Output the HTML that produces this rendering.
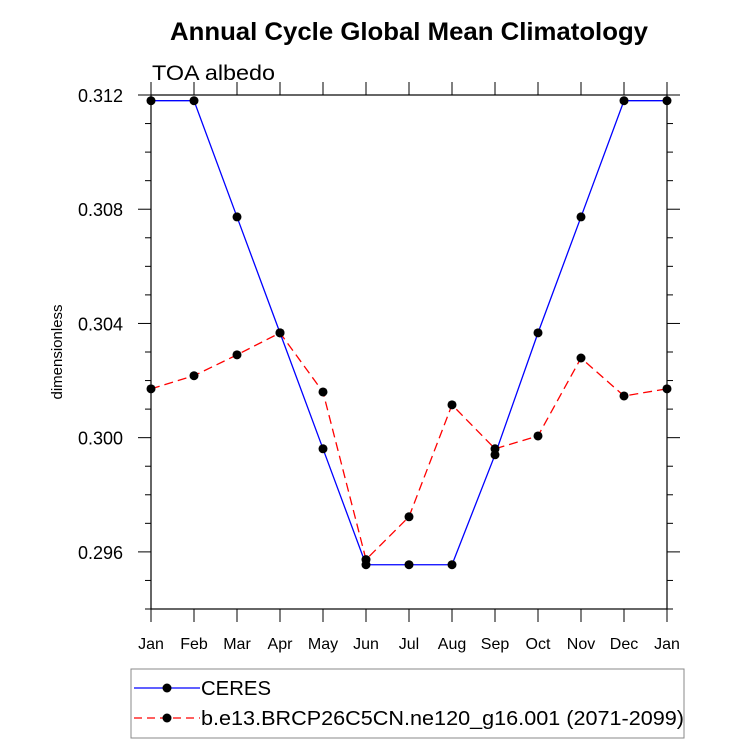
<!DOCTYPE html>
<html><head><meta charset="utf-8"><style>
body{margin:0;background:#fff;}
svg text{font-family:"Liberation Sans",Arial,sans-serif;}
</style></head><body>
<svg id="chart" width="733" height="744" xmlns="http://www.w3.org/2000/svg">
<text x="170" y="40" font-size="25" font-weight="bold" textLength="478" lengthAdjust="spacingAndGlyphs">Annual Cycle Global Mean Climatology</text>
<text x="152" y="80" font-size="21" textLength="123" lengthAdjust="spacingAndGlyphs">TOA albedo</text>
<text transform="translate(62,352) rotate(-90)" text-anchor="middle" font-size="15">dimensionless</text>
<g id="axes"></g><g id="series"></g>
<rect x="131" y="669" width="553" height="69" fill="none" stroke="#888" stroke-width="1"/>
<line x1="134" y1="688" x2="200" y2="688" stroke="#00f" stroke-width="1.3"/>
<circle cx="167" cy="688" r="4.5" fill="#000"/>
<text x="201" y="695" font-size="20" textLength="70" lengthAdjust="spacingAndGlyphs">CERES</text>
<line x1="134" y1="718" x2="200" y2="718" stroke="#f00" stroke-width="1.3" stroke-dasharray="8,5"/>
<circle cx="167" cy="718" r="4.5" fill="#000"/>
<text x="201" y="725" font-size="20" textLength="483" lengthAdjust="spacingAndGlyphs">b.e13.BRCP26C5CN.ne120_g16.001 (2071-2099)</text>
</svg>
<script>
const months=["Jan","Feb","Mar","Apr","May","Jun","Jul","Aug","Sep","Oct","Nov","Dec","Jan"];
const ceres=[0.3118,0.3118,0.30773,0.30367,0.29961,0.29555,0.29555,0.29555,0.2994,0.30367,0.30773,0.3118,0.3118];
const model=[0.30171,0.30217,0.3029,0.30367,0.3016,0.29573,0.29723,0.30115,0.29961,0.30006,0.30279,0.30146,0.30171];
const yTicks=[0.296,0.300,0.304,0.308,0.312];
const X0=151,X1=667,Y0=609,Y1=95,YMIN=0.294,YMAX=0.312;
const NS="http://www.w3.org/2000/svg";
function xs(i){return X0+(X1-X0)*i/(months.length-1);}
function ys(v){return Y0-(v-YMIN)/(YMAX-YMIN)*(Y0-Y1);}
function mk(tag,attrs,parent){const e=document.createElementNS(NS,tag);for(const k in attrs)e.setAttribute(k,attrs[k]);parent.appendChild(e);return e;}
const ax=document.getElementById('axes');
const frame=mk('rect',{x:X0,y:Y1,width:X1-X0,height:Y0-Y1,fill:'none',stroke:'#000','stroke-width':1.2},ax);


for(let i=0;i<months.length;i++){
  const x=xs(i);
  const t1=mk('line',{x1:x,y1:Y0,x2:x,y2:Y0+13,stroke:'#000'},ax);
  
  
  const t2=mk('line',{x1:x,y1:Y1,x2:x,y2:Y1-13,stroke:'#000'},ax);
  
  
  const tx=mk('text',{x:x,y:Y0+40,'text-anchor':'middle','font-size':16},ax);
  tx.textContent=months[i];
  
  
}
for(let v=YMIN;v<=YMAX+1e-9;v+=0.001){
  const y=ys(v);
  const major=yTicks.some(t=>Math.abs(t-v)<1e-7);
  const L=major?13:6;
  const a=mk('line',{x1:X0,y1:y,x2:X0-L,y2:y,stroke:'#000'},ax);
  
  
  const b=mk('line',{x1:X1,y1:y,x2:X1+L,y2:y,stroke:'#000'},ax);
  
  
}
yTicks.forEach(v=>{
  const t=mk('text',{x:123,y:ys(v)+7,'text-anchor':'end','font-size':18},ax);
  t.textContent=v.toFixed(3);
  
  
});
const sg=document.getElementById('series');
function draw(vals,color,dash,name){
  const pts=vals.map((v,i)=>xs(i)+','+ys(v)).join(' ');
  const pl=mk('polyline',{points:pts,fill:'none',stroke:color,'stroke-width':1.3},sg);
  if(dash)pl.setAttribute('stroke-dasharray',dash);
  
  
  vals.forEach((v,i)=>{
    const c=mk('circle',{cx:xs(i),cy:ys(v),r:4.5,fill:'#000'},sg);
    
    
  });
}
draw(ceres,'#00f',null,'ceres');
draw(model,'#f00','9,5','model');
</script>
</body></html>
